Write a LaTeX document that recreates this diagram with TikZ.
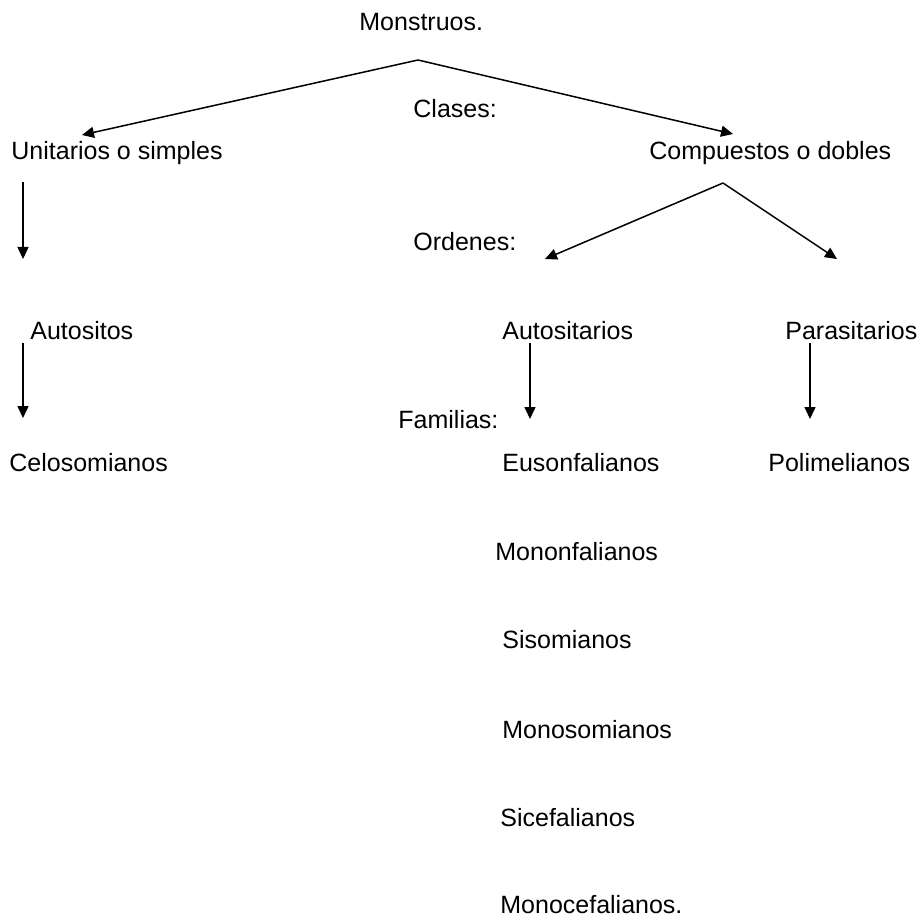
\documentclass[tikz,border=0pt]{standalone}
\usepackage{fontspec}
\setmainfont{Liberation Sans}
\usetikzlibrary{arrows.meta}
\begin{document}
\begin{tikzpicture}[x=0.5pt,y=-0.5pt,
  lbl/.style={anchor=base west,inner sep=0pt,font=\fontsize{12.5pt}{15pt}\selectfont},
  arr/.style={line width=0.75pt,-{Triangle[length=6pt,width=5.5pt]}}]
\useasboundingbox[fill=white] (0,0) rectangle (920,919);
\node[lbl] (mon) at (359,31) {Monstruos.};
\node[lbl] (cla) at (413,118) {Clases:};
\node[lbl] (uni) at (11,160) {Unitarios o simples};
\node[lbl] (com) at (649,160) {Compuestos o dobles};
\node[lbl] (ord) at (413,251) {Ordenes:};
\node[lbl] (aut) at (30,340) {Autositos};
\node[lbl] (ats) at (502,340) {Autositarios};
\node[lbl] (par) at (785,340) {Parasitarios};
\node[lbl] (fam) at (398,428) {Familias:};
\node[lbl] (cel) at (9,471) {Celosomianos};
\node[lbl] (eus) at (502,471) {Eusonfalianos};
\node[lbl] (pol) at (768,471) {Polimelianos};
\node[lbl] (mno) at (495,560) {Mononfalianos};
\node[lbl] (sis) at (502,648) {Sisomianos};
\node[lbl] (mns) at (502,738) {Monosomianos};
\node[lbl] (sic) at (500,826) {Sicefalianos};
\node[lbl] (mnc) at (500,913) {Monocefalianos.};
\coordinate (a0) at (418,60);
\coordinate (a1) at (82,135);
\coordinate (a2) at (733,134);
\coordinate (b0) at (23,182);
\coordinate (b1) at (23,259);
\coordinate (c0) at (723,183);
\coordinate (c1) at (545,259);
\coordinate (c2) at (837,259);
\coordinate (d0) at (23,343);
\coordinate (d1) at (23,418);
\coordinate (e0) at (530,343);
\coordinate (e1) at (530,419);
\coordinate (f0) at (810,343);
\coordinate (f1) at (810,419);
\draw[arr] (a0) -- (a1);
\draw[arr] (a0) -- (a2);
\draw[arr] (b0) -- (b1);
\draw[arr] (c0) -- (c1);
\draw[arr] (c0) -- (c2);
\draw[arr] (d0) -- (d1);
\draw[arr] (e0) -- (e1);
\draw[arr] (f0) -- (f1);
\end{tikzpicture}
\end{document}
